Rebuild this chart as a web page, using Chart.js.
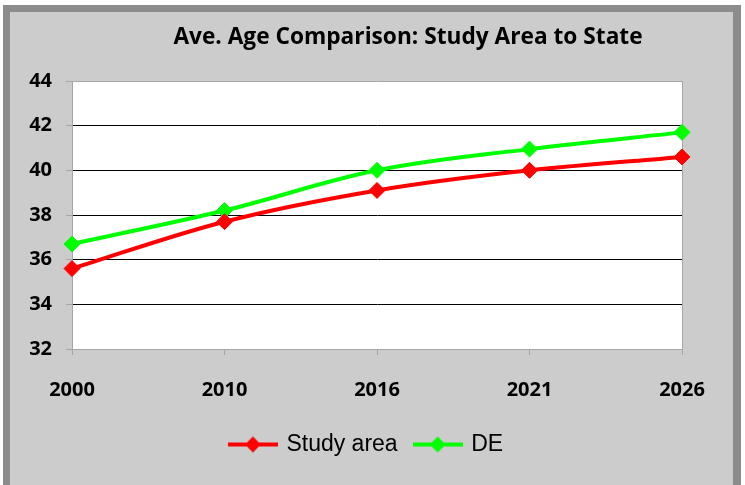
<!DOCTYPE html>
<html>
<head>
<meta charset="utf-8">
<script src="https://cdn.jsdelivr.net/npm/chart.js@4.4.1/dist/chart.umd.min.js"></script>
<style>
  body { margin: 0; background: #fff; }
  #frame {
    position: absolute; left: 3px; top: 5px; width: 723px; height: 475px;
    background: #cccccc; border: 7px solid #8c8c8c; border-right-width: 8px; border-bottom-width: 5px;
  }
  #wrap { position: absolute; left: 0; top: 0; width: 745px; height: 485px; }
</style>
</head>
<body>
<div id="frame"></div>
<div id="wrap"><canvas id="chart" width="745" height="485"></canvas></div>
<script>
const years = ["2000", "2010", "2016", "2021", "2026"];
const studyArea = [35.6, 37.7, 39.1, 40.0, 40.6];
const stateDE = [36.7, 38.2, 40.0, 40.95, 41.7];
const yTicks = [32, 34, 36, 38, 40, 42, 44];

const titleText = "Ave. Age Comparison: Study Area to State";
const axisGray = "#a6a6a6";

// legend sample: short line with a diamond in the middle
function legendSample(color) {
  const c = document.createElement("canvas");
  c.width = 50;
  c.height = 18;
  const g = c.getContext("2d");
  g.strokeStyle = color;
  g.lineWidth = 4;
  g.beginPath();
  g.moveTo(0, 9);
  g.lineTo(50, 9);
  g.stroke();
  g.fillStyle = color;
  g.beginPath();
  g.moveTo(25, 1);
  g.lineTo(33, 9);
  g.lineTo(25, 17);
  g.lineTo(17, 9);
  g.closePath();
  g.fill();
  return c;
}
const samples = [legendSample("#ff0000"), legendSample("#00ff00")];

const plotBackground = {
  id: "plotBackground",
  beforeDraw(chart) {
    const { ctx, chartArea: a } = chart;
    ctx.save();
    ctx.fillStyle = "#ffffff";
    ctx.fillRect(a.left, a.top, a.right - a.left, a.bottom - a.top);
    ctx.restore();
  }
};

const chartTitle = {
  id: "chartTitle",
  afterDraw(chart) {
    const ctx = chart.ctx;
    ctx.save();
    ctx.font = "bold 22.7px 'Open Sans'";
    ctx.fillStyle = "#000";
    ctx.textAlign = "center";
    ctx.textBaseline = "alphabetic";
    ctx.fillText(titleText, 408, 44);
    ctx.restore();
  }
};

// legend in the original sits a little right of the plot centre
const legendShift = {
  id: "legendShift",
  afterLayout(chart) {
    chart.legend.left += 21;
    chart.legend.right += 21;
  }
};

new Chart(document.getElementById("chart"), {
  type: "line",
  data: {
    labels: years,
    datasets: [
      {
        label: "Study area",
        data: studyArea,
        borderColor: "#ff0000",
        backgroundColor: "#ff0000",
        borderWidth: 4,
        pointStyle: "rectRot",
        pointRadius: 8,
        pointBorderWidth: 1,
        tension: 0.35
      },
      {
        label: "DE",
        data: stateDE,
        borderColor: "#00ff00",
        backgroundColor: "#00ff00",
        borderWidth: 4,
        pointStyle: "rectRot",
        pointRadius: 8,
        pointBorderWidth: 1,
        tension: 0.35
      }
    ]
  },
  options: {
    responsive: false,
    animation: false,
    layout: { padding: { left: 10, right: 63, top: 81, bottom: 19 } },
    scales: {
      x: {
        offset: false,
        afterFit: s => { s.height = 66; },
        grid: {
          color: c => (c.index === years.length - 1 ? axisGray : "rgba(0,0,0,0)"),
          tickColor: axisGray,
          tickLength: 6
        },
        border: { color: axisGray, width: 1 },
        ticks: {
          color: "#000",
          padding: 23,
          maxRotation: 0,
          font: { family: "'Open Sans'", size: 20, weight: "bold" }
        }
      },
      y: {
        min: 32,
        max: 44,
        afterFit: s => { s.width = 62; },
        afterBuildTicks: s => { s.ticks = yTicks.map(v => ({ value: v })); },
        grid: {
          color: c => (c.tick && (c.tick.value === 32 || c.tick.value === 44) ? axisGray : "#000"),
          tickColor: axisGray,
          tickLength: 6
        },
        border: { color: axisGray, width: 1 },
        ticks: {
          color: "#000",
          padding: 14,
          font: { family: "'Open Sans'", size: 20, weight: "bold" }
        }
      }
    },
    plugins: {
      title: { display: false },
      tooltip: { enabled: false },
      legend: {
        position: "bottom",
        labels: {
          usePointStyle: true,
          pointStyleWidth: 44,
          padding: 18,
          color: "#000",
          font: { family: "'Liberation Sans'", size: 23 },
          generateLabels: chart => {
            const items = Chart.defaults.plugins.legend.labels.generateLabels(chart);
            items.forEach((it, i) => { it.pointStyle = samples[i]; });
            return items;
          }
        }
      }
    }
  },
  plugins: [plotBackground, chartTitle, legendShift]
});
</script>
</body>
</html>
